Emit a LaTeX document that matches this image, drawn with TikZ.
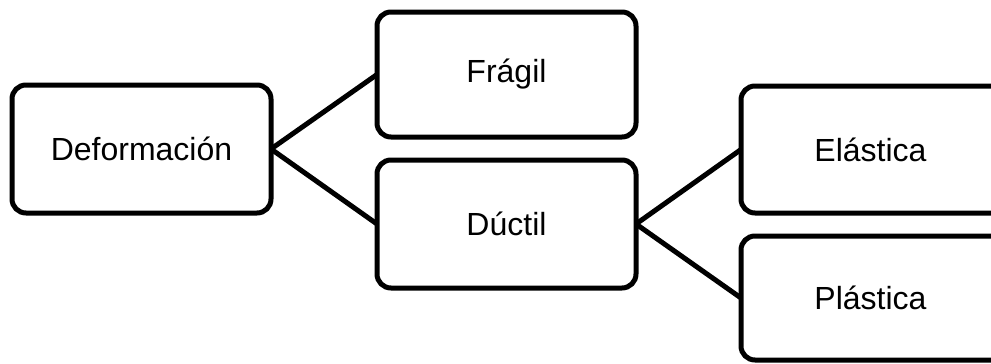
\documentclass[tikz,border=0pt]{standalone}
\usepackage{fontspec}
\setmainfont{Liberation Sans}
\begin{document}
\begin{tikzpicture}[x=1pt,y=-1pt,
  txt/.style={font=\fontsize{32}{38}\selectfont},
  box/.style={draw=black, line width=5pt, rounded corners=14pt, fill=white,
    minimum width=259pt, minimum height=127pt, inner sep=0pt, outer sep=0pt, txt},
  cutbox/.style={box, minimum width=300pt, anchor=west},
  link/.style={draw=black, line width=5pt}]
\useasboundingbox (0,0) rectangle (991,364);
\clip (0,0) rectangle (991,364);
\node[box, minimum height=128pt] (def) at (141.5,149) {Deformación};
\node[box, minimum height=125pt] (fra) at (506.5,74.5) {Frágil};
\node[box, minimum height=128pt] (duc) at (506.5,224) {Dúctil};
\node[cutbox, label={[txt, xshift=-20.5pt]center:Elástica}] (ela) at (741,149.5) {};
\node[cutbox, minimum height=124pt, label={[txt, xshift=-20.5pt]center:Plástica}] (pla) at (741,298) {};
\draw[link] (def.east) -- (fra.west);
\draw[link] (def.east) -- (duc.west);
\draw[link] (duc.east) -- (ela.west);
\draw[link] (duc.east) -- (pla.west);
\end{tikzpicture}
\end{document}
